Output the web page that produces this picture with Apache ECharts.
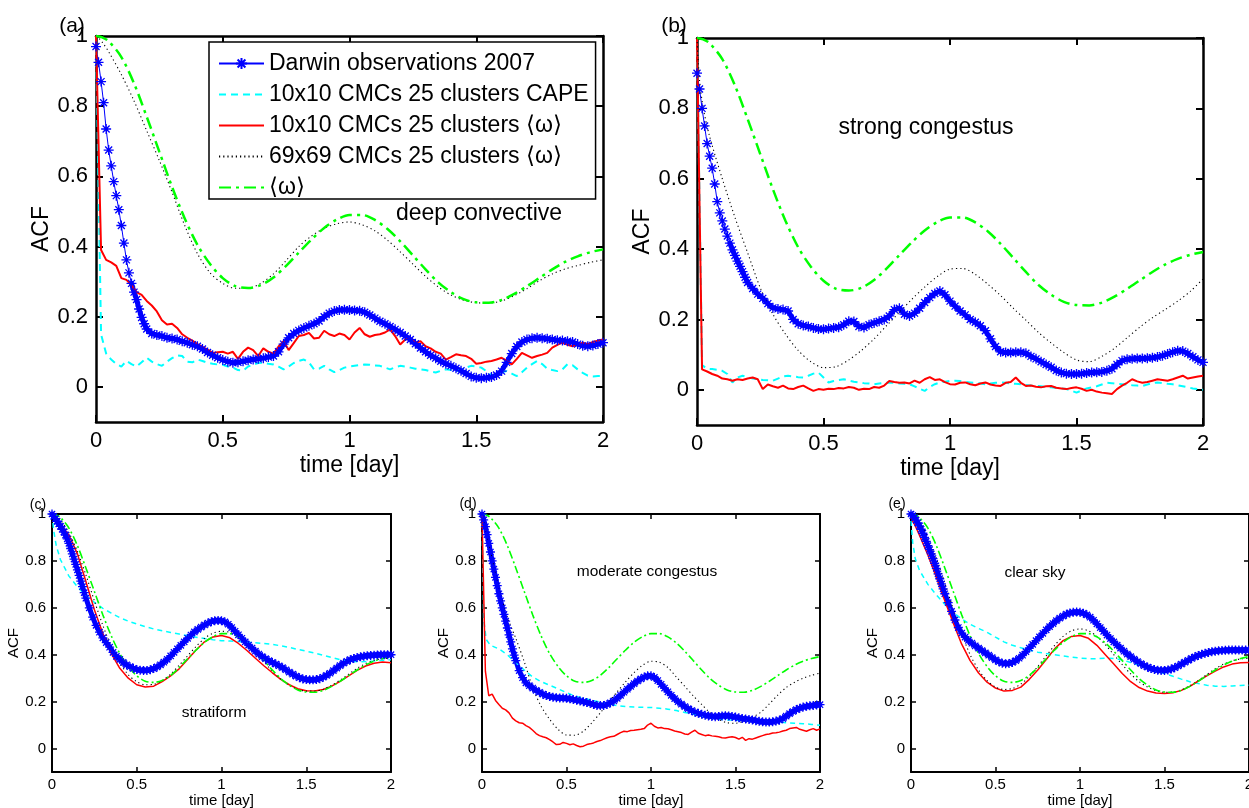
<!DOCTYPE html>
<html>
<head>
<meta charset="utf-8">
<script src="https://cdn.jsdelivr.net/npm/echarts@6/dist/echarts.min.js"></script>
<style>html,body{margin:0;padding:0;background:#fff;overflow:hidden;}#chart{width:1249px;height:808px;}</style>
</head>
<body>
<div id="chart"></div>
<script>
// ---- sampling grids (lag in days) ----
const tN = []; for (let i = 0; i <= 100; i++) tN.push(+(i * 0.02).toFixed(2));
const tObs = []; for (let i = 0; i <= 20; i++) tObs.push(+(i * 0.01).toFixed(2));
for (let i = 11; i <= 100; i++) tObs.push(+(i * 0.02).toFixed(2));
const tS = [0, 0.01, 0.025]; for (let k = 1; k <= 40; k++) tS.push(+(k * 0.05).toFixed(2));

const xTicks = [0, 0.5, 1, 1.5, 2];
const yTicks = [0, 0.2, 0.4, 0.6, 0.8, 1];

const seriesNames = ['Darwin observations 2007', '10x10 CMCs 25 clusters CAPE', '10x10 CMCs 25 clusters \u27E8\u03C9\u27E9', '69x69 CMCs 25 clusters \u27E8\u03C9\u27E9', '\u27E8\u03C9\u27E9'];
const notes = ['deep convective', 'strong congestus', 'stratiform', 'moderate congestus', 'clear sky'];
const letters = ['(a)', '(b)', '(c)', '(d)', '(e)'];

// ---- shared <omega> ACF (on tS) ----
const wMean = [1.0, 0.999, 0.996, 0.985, 0.94, 0.865, 0.77, 0.67, 0.57, 0.48, 0.405, 0.35, 0.31, 0.287, 0.282, 0.29, 0.312, 0.345, 0.383, 0.42, 0.453, 0.477, 0.49, 0.49, 0.476, 0.45, 0.415, 0.375, 0.335, 0.298, 0.27, 0.25, 0.241, 0.24, 0.248, 0.265, 0.287, 0.311, 0.335, 0.356, 0.372, 0.384, 0.392];

// ---- (a) deep convective ----
const obsA = [0.97, 0.925, 0.87, 0.81, 0.735, 0.675, 0.63, 0.585, 0.545, 0.505,
  0.46, 0.41, 0.362, 0.325, 0.295, 0.27, 0.249, 0.222, 0.198, 0.18, 0.165,
  0.152, 0.148, 0.145, 0.14, 0.138, 0.135, 0.13, 0.126, 0.12,
  0.116, 0.108, 0.098, 0.09, 0.083, 0.077, 0.072, 0.069, 0.07, 0.073,
  0.076, 0.078, 0.08, 0.082, 0.085, 0.088, 0.1, 0.122, 0.14, 0.152,
  0.161, 0.168, 0.174, 0.18, 0.188, 0.2, 0.21, 0.216, 0.219, 0.22,
  0.219, 0.218, 0.217, 0.213, 0.205, 0.196, 0.187, 0.18, 0.172, 0.164,
  0.155, 0.145, 0.135, 0.123, 0.111, 0.1, 0.09, 0.082, 0.073, 0.066,
  0.06, 0.053, 0.046, 0.038, 0.03, 0.026, 0.025, 0.026, 0.028, 0.034,
  0.045, 0.07, 0.095, 0.115, 0.128, 0.135, 0.139, 0.14, 0.139, 0.137,
  0.135, 0.133, 0.132, 0.13, 0.128, 0.122, 0.117, 0.116, 0.118, 0.122,
  0.126];
const capeA = [1.0, 0.15, 0.095, 0.078, 0.065, 0.058, 0.074, 0.065, 0.058, 0.07,
  0.083, 0.072, 0.065, 0.06, 0.072, 0.082, 0.09, 0.088, 0.072, 0.07,
  0.078, 0.074, 0.069, 0.066, 0.064, 0.063, 0.058, 0.055, 0.048, 0.046,
  0.058, 0.064, 0.068, 0.069, 0.066, 0.064, 0.058, 0.05, 0.058, 0.068,
  0.074, 0.078, 0.07, 0.05, 0.052, 0.06, 0.05, 0.042, 0.048, 0.055,
  0.058, 0.06, 0.062, 0.064, 0.063, 0.061, 0.06, 0.055, 0.05, 0.056,
  0.06, 0.058, 0.055, 0.052, 0.05, 0.048, 0.044, 0.041, 0.046, 0.05,
  0.048, 0.045, 0.048, 0.055, 0.06, 0.058, 0.055, 0.045, 0.033, 0.035,
  0.042, 0.045, 0.038, 0.031, 0.042, 0.055, 0.065, 0.074, 0.065, 0.052,
  0.048, 0.045, 0.05, 0.065, 0.062, 0.05, 0.04, 0.032, 0.03, 0.031,
  0.031];
const w10A = [1.0, 0.39, 0.362, 0.355, 0.345, 0.31, 0.305, 0.29, 0.27, 0.262,
  0.245, 0.232, 0.215, 0.19, 0.178, 0.18, 0.168, 0.15, 0.14, 0.132,
  0.122, 0.114, 0.106, 0.097, 0.099, 0.1, 0.095, 0.1, 0.08, 0.1,
  0.112, 0.105, 0.088, 0.11, 0.1, 0.095, 0.115, 0.13, 0.105, 0.125,
  0.145, 0.148, 0.154, 0.138, 0.14, 0.16, 0.15, 0.145, 0.152, 0.148,
  0.135, 0.155, 0.168, 0.15, 0.143, 0.148, 0.15, 0.155, 0.164, 0.145,
  0.121, 0.135, 0.138, 0.126, 0.13, 0.116, 0.11, 0.1, 0.095, 0.078,
  0.085, 0.093, 0.09, 0.088, 0.08, 0.066, 0.068, 0.072, 0.074, 0.078,
  0.083, 0.075, 0.064, 0.08, 0.097, 0.09, 0.083, 0.088, 0.092, 0.097,
  0.112, 0.12, 0.126, 0.12, 0.116, 0.12, 0.126, 0.122, 0.128, 0.132,
  0.135];
const w69A = [1.0, 0.995, 0.982, 0.955, 0.89, 0.815, 0.73, 0.645, 0.555, 0.46, 0.38, 0.325, 0.295, 0.281, 0.281, 0.295, 0.322, 0.36, 0.4, 0.43, 0.452, 0.465, 0.47, 0.462, 0.445, 0.418, 0.385, 0.35, 0.315, 0.285, 0.262, 0.247, 0.24, 0.239, 0.245, 0.26, 0.28, 0.303, 0.322, 0.336, 0.346, 0.355, 0.362];

// ---- (b) strong congestus ----
const obsB = [0.9, 0.855, 0.8, 0.75, 0.7, 0.664, 0.63, 0.585, 0.535, 0.503,
  0.48, 0.457, 0.437, 0.417, 0.398, 0.382, 0.366, 0.351, 0.336, 0.32, 0.305,
  0.288, 0.272, 0.26, 0.245, 0.233, 0.23, 0.228, 0.224, 0.2,
  0.188, 0.183, 0.18, 0.176, 0.173, 0.172, 0.174, 0.176, 0.178, 0.185,
  0.195, 0.194, 0.18, 0.177, 0.185, 0.19, 0.195, 0.2, 0.21, 0.228,
  0.232, 0.215, 0.21, 0.218, 0.232, 0.248, 0.262, 0.274, 0.281, 0.27,
  0.252, 0.238, 0.224, 0.213, 0.2, 0.192, 0.182, 0.168, 0.145, 0.123,
  0.108, 0.106, 0.106, 0.107, 0.107, 0.104, 0.095, 0.088, 0.08, 0.072,
  0.064, 0.055, 0.049, 0.046, 0.045, 0.045, 0.046, 0.048, 0.049, 0.05,
  0.051, 0.054, 0.06, 0.072, 0.083, 0.087, 0.088, 0.089, 0.089, 0.09,
  0.091, 0.093, 0.097, 0.102, 0.107, 0.111, 0.11, 0.103, 0.094, 0.085,
  0.078];
const capeB = [1.0, 0.07, 0.06, 0.059, 0.057, 0.054, 0.045, 0.021, 0.035, 0.04,
  0.036, 0.032, 0.03, 0.028, 0.027, 0.026, 0.032, 0.038, 0.04, 0.038,
  0.036, 0.035, 0.04, 0.046, 0.049, 0.035, 0.021, 0.025, 0.028, 0.03,
  0.026, 0.023, 0.021, 0.019, 0.018, 0.016, 0.018, 0.02, 0.021, 0.02,
  0.018, 0.017, 0.016, 0.01, 0.003, -0.003, 0.008, 0.016, 0.021, 0.023,
  0.025, 0.026, 0.025, 0.023, 0.021, 0.019, 0.018, 0.016, 0.018, 0.02,
  0.021, 0.02, 0.018, 0.017, 0.016, 0.014, 0.012, 0.011, 0.01, 0.008,
  0.007, 0.005, 0.004, 0.002, -0.002, -0.008, -0.002, 0.004, 0.007, 0.01,
  0.015, 0.02, 0.019, 0.017, 0.016, 0.015, 0.013, 0.012, 0.011, 0.015,
  0.019, 0.021, 0.019, 0.017, 0.016, 0.013, 0.01, 0.007, 0.004, 0.002,
  0.0];
const w10B = [1.0, 0.058, 0.052, 0.045, 0.04, 0.032, 0.03, 0.026, 0.03, 0.028,
  0.032, 0.035, 0.03, 0.002, 0.015, 0.01, 0.006, 0.012, 0.004, 0.002,
  0.008, 0.012, 0.004, -0.003, 0.002, 0.0, 0.003, 0.002, 0.005, 0.004,
  0.008, 0.006, 0.0, 0.003, 0.002, 0.008, 0.006, 0.012, 0.025, 0.022,
  0.02, 0.021, 0.018, 0.026, 0.02, 0.03, 0.036, 0.028, 0.03, 0.022,
  0.016, 0.015, 0.02, 0.021, 0.016, 0.013, 0.018, 0.021, 0.015, 0.012,
  0.011, 0.02, 0.022, 0.035, 0.02, 0.011, 0.012, 0.009, 0.007, 0.01,
  0.011, 0.006, 0.004, 0.002, 0.005, 0.007, 0.003, -0.003, 0.0, -0.005,
  -0.008, -0.01, -0.012, 0.002, 0.012, 0.02, 0.03, 0.024, 0.02, 0.022,
  0.026, 0.03, 0.028, 0.026, 0.03, 0.035, 0.04, 0.032, 0.035, 0.038,
  0.04];
const w69B = [1.0, 0.88, 0.8, 0.72, 0.6, 0.49, 0.39, 0.29, 0.215, 0.158, 0.112, 0.08, 0.063, 0.066, 0.085, 0.112, 0.145, 0.183, 0.22, 0.258, 0.292, 0.322, 0.343, 0.345, 0.328, 0.3, 0.268, 0.232, 0.198, 0.163, 0.133, 0.106, 0.085, 0.08, 0.095, 0.118, 0.148, 0.178, 0.205, 0.228, 0.252, 0.28, 0.315];

// ---- (c) stratiform ----
const obsC = [1.0, 0.99, 0.98, 0.969, 0.958, 0.947, 0.935, 0.923, 0.91, 0.894,
  0.875, 0.853, 0.83, 0.808, 0.785, 0.762, 0.738, 0.714, 0.69, 0.665, 0.641,
  0.6, 0.56, 0.525, 0.496, 0.472, 0.452, 0.432, 0.41, 0.393,
  0.38, 0.367, 0.357, 0.349, 0.342, 0.337, 0.334, 0.333, 0.333, 0.336,
  0.341, 0.348, 0.357, 0.368, 0.38, 0.395, 0.41, 0.425, 0.44, 0.455,
  0.47, 0.484, 0.497, 0.508, 0.518, 0.527, 0.535, 0.541, 0.545, 0.546,
  0.545, 0.54, 0.53, 0.516, 0.5, 0.485, 0.47, 0.455, 0.441, 0.428,
  0.415, 0.403, 0.392, 0.383, 0.375, 0.367, 0.36, 0.353, 0.345, 0.336,
  0.326, 0.317, 0.309, 0.302, 0.297, 0.294, 0.293, 0.293, 0.294, 0.298,
  0.304, 0.312, 0.321, 0.332, 0.343, 0.354, 0.364, 0.372, 0.379, 0.384,
  0.388, 0.391, 0.394, 0.396, 0.397, 0.398, 0.399, 0.4, 0.4, 0.4,
  0.4];
const capeC = [1.0, 0.93, 0.865, 0.805, 0.735, 0.69, 0.652, 0.623, 0.598, 0.577, 0.558, 0.543, 0.531, 0.52, 0.51, 0.502, 0.495, 0.488, 0.481, 0.475, 0.469, 0.464, 0.46, 0.458, 0.456, 0.454, 0.451, 0.448, 0.444, 0.438, 0.431, 0.423, 0.415, 0.407, 0.398, 0.388, 0.379, 0.373, 0.37, 0.371, 0.373, 0.376, 0.379];
const w10C = [1.0, 0.993, 0.978, 0.955, 0.91, 0.83, 0.712, 0.592, 0.49, 0.405, 0.342, 0.3, 0.272, 0.262, 0.266, 0.285, 0.31, 0.34, 0.38, 0.42, 0.455, 0.476, 0.482, 0.472, 0.448, 0.418, 0.385, 0.353, 0.323, 0.295, 0.272, 0.255, 0.246, 0.245, 0.252, 0.266, 0.286, 0.31, 0.333, 0.352, 0.364, 0.369, 0.366];
const w69C = [1.0, 0.998, 0.99, 0.975, 0.92, 0.84, 0.74, 0.63, 0.525, 0.435, 0.365, 0.315, 0.285, 0.272, 0.274, 0.29, 0.318, 0.355, 0.395, 0.435, 0.47, 0.492, 0.5, 0.495, 0.476, 0.447, 0.41, 0.37, 0.33, 0.295, 0.27, 0.252, 0.245, 0.245, 0.253, 0.27, 0.292, 0.317, 0.342, 0.362, 0.376, 0.383, 0.386];

// ---- (d) moderate congestus ----
const obsD = [1.0, 0.975, 0.946, 0.912, 0.875, 0.838, 0.8, 0.765, 0.73, 0.695,
  0.66, 0.63, 0.6, 0.572, 0.543, 0.514, 0.485, 0.455, 0.425, 0.398, 0.375,
  0.332, 0.302, 0.28, 0.268, 0.258, 0.248, 0.24, 0.232, 0.226,
  0.222, 0.219, 0.217, 0.216, 0.215, 0.214, 0.212, 0.209, 0.206, 0.203,
  0.2, 0.196, 0.193, 0.188, 0.184, 0.183, 0.184, 0.188, 0.195, 0.203,
  0.214, 0.227, 0.24, 0.253, 0.265, 0.277, 0.288, 0.297, 0.305, 0.31,
  0.31, 0.303, 0.29, 0.274, 0.258, 0.242, 0.227, 0.213, 0.2, 0.189,
  0.179, 0.17, 0.162, 0.155, 0.15, 0.146, 0.142, 0.139, 0.137, 0.136,
  0.137, 0.139, 0.14, 0.139, 0.137, 0.134, 0.131, 0.128, 0.126, 0.124,
  0.122, 0.119, 0.116, 0.114, 0.113, 0.113, 0.114, 0.117, 0.121, 0.128,
  0.138, 0.149, 0.158, 0.166, 0.172, 0.177, 0.18, 0.182, 0.184, 0.186,
  0.187];
const capeD = [1.0, 0.55, 0.465, 0.44, 0.425, 0.4, 0.365, 0.335, 0.305, 0.285, 0.27, 0.255, 0.238, 0.224, 0.214, 0.206, 0.198, 0.19, 0.183, 0.179, 0.177, 0.176, 0.175, 0.172, 0.168, 0.162, 0.154, 0.146, 0.139, 0.132, 0.125, 0.122, 0.121, 0.119, 0.117, 0.116, 0.115, 0.113, 0.11, 0.108, 0.106, 0.103, 0.099];
const w10D = [1.0, 0.33, 0.225, 0.232, 0.205, 0.188, 0.172, 0.165, 0.152, 0.13,
  0.118, 0.11, 0.108, 0.098, 0.09, 0.078, 0.064, 0.055, 0.05, 0.046,
  0.038, 0.028, 0.017, 0.018, 0.026, 0.022, 0.016, 0.02, 0.013, 0.008,
  0.01, 0.017, 0.02, 0.024, 0.03, 0.034, 0.04, 0.046, 0.05, 0.052,
  0.06, 0.068, 0.074, 0.072, 0.077, 0.078, 0.08, 0.082, 0.085, 0.1,
  0.108, 0.095, 0.088, 0.09, 0.085, 0.084, 0.08, 0.075, 0.072, 0.068,
  0.062, 0.06, 0.07, 0.078, 0.065, 0.06, 0.055, 0.058, 0.054, 0.052,
  0.05, 0.046, 0.045, 0.048, 0.05, 0.047, 0.04, 0.048, 0.035, 0.042,
  0.04, 0.045, 0.05, 0.055, 0.06, 0.062, 0.066, 0.067, 0.07, 0.075,
  0.078, 0.085, 0.088, 0.09, 0.082, 0.078, 0.074, 0.08, 0.085, 0.078,
  0.084];
const w69D = [1.0, 0.97, 0.92, 0.84, 0.69, 0.56, 0.47, 0.37, 0.26, 0.18, 0.125, 0.082, 0.058, 0.057, 0.074, 0.11, 0.152, 0.198, 0.242, 0.285, 0.324, 0.355, 0.372, 0.368, 0.345, 0.305, 0.265, 0.225, 0.188, 0.152, 0.125, 0.11, 0.108, 0.116, 0.133, 0.155, 0.19, 0.228, 0.26, 0.283, 0.3, 0.312, 0.322];

// ---- (e) clear sky ----
const obsE = [1.0, 0.993, 0.985, 0.974, 0.962, 0.949, 0.935, 0.918, 0.9, 0.883,
  0.865, 0.848, 0.83, 0.81, 0.79, 0.768, 0.745, 0.724, 0.702, 0.681, 0.66,
  0.622, 0.585, 0.548, 0.516, 0.492, 0.475, 0.461, 0.449, 0.438,
  0.428, 0.418, 0.408, 0.398, 0.388, 0.378, 0.37, 0.364, 0.362, 0.363,
  0.367, 0.375, 0.385, 0.398, 0.413, 0.428, 0.444, 0.46, 0.476, 0.491,
  0.506, 0.52, 0.533, 0.545, 0.556, 0.565, 0.573, 0.578, 0.581, 0.582,
  0.581, 0.577, 0.57, 0.56, 0.547, 0.532, 0.516, 0.5, 0.484, 0.469,
  0.455, 0.441, 0.428, 0.415, 0.403, 0.392, 0.381, 0.371, 0.362, 0.354,
  0.347, 0.341, 0.337, 0.334, 0.333, 0.333, 0.335, 0.339, 0.345, 0.352,
  0.36, 0.368, 0.376, 0.384, 0.391, 0.397, 0.402, 0.406, 0.41, 0.413,
  0.415, 0.417, 0.418, 0.419, 0.42, 0.42, 0.42, 0.42, 0.42, 0.42,
  0.42];
const capeE = [0.97, 0.88, 0.81, 0.76, 0.7, 0.655, 0.615, 0.58, 0.553, 0.53, 0.512, 0.496, 0.475, 0.455, 0.44, 0.43, 0.42, 0.411, 0.405, 0.4, 0.395, 0.39, 0.386, 0.383, 0.383, 0.385, 0.384, 0.378, 0.367, 0.355, 0.343, 0.332, 0.32, 0.308, 0.296, 0.285, 0.277, 0.27, 0.266, 0.265, 0.267, 0.269, 0.27];
const w10E = [1.0, 0.97, 0.95, 0.91, 0.825, 0.73, 0.63, 0.535, 0.445, 0.375, 0.322, 0.283, 0.258, 0.245, 0.248, 0.262, 0.295, 0.335, 0.38, 0.425, 0.46, 0.478, 0.482, 0.47, 0.44, 0.4, 0.36, 0.32, 0.285, 0.26, 0.245, 0.237, 0.235, 0.238, 0.248, 0.265, 0.288, 0.31, 0.33, 0.348, 0.36, 0.366, 0.367];
const w69E = [1.0, 0.995, 0.985, 0.965, 0.9, 0.81, 0.705, 0.595, 0.49, 0.4, 0.335, 0.29, 0.262, 0.252, 0.256, 0.275, 0.308, 0.35, 0.395, 0.44, 0.478, 0.502, 0.51, 0.502, 0.478, 0.443, 0.4, 0.358, 0.318, 0.285, 0.262, 0.247, 0.24, 0.241, 0.25, 0.268, 0.29, 0.315, 0.34, 0.36, 0.374, 0.382, 0.385];

// ---- panel data bindings ----
const panelData = [
  { obs: obsA, cape: [tN, capeA], w10: [tN, w10A], w69: w69A },
  { obs: obsB, cape: [tN, capeB], w10: [tN, w10B], w69: w69B },
  { obs: obsC, cape: [tS, capeC], w10: [tS, w10C], w69: w69C },
  { obs: obsD, cape: [tS, capeD], w10: [tN, w10D], w69: w69D },
  { obs: obsE, cape: [tS, capeE], w10: [tS, w10E], w69: w69E }
];

// ---- layout / style (not data) ----
const FONT = "'Liberation Sans', Arial, Helvetica, sans-serif";
const layout = [
  { grid: { left: 96, top: 36, width: 507, height: 386 }, big: true, bandFrom: 0.14, letterPos: [72, 26], notePos: [479, 214] },
  { grid: { left: 697, top: 38, width: 506, height: 387 }, big: true, bandFrom: 0.13, letterPos: [674, 26], notePos: [926, 128] },
  { grid: { left: 52, top: 514, width: 339, height: 258 }, big: false, bandFrom: 0, letterPos: [38, 505], notePos: [214, 713] },
  { grid: { left: 482, top: 514, width: 338, height: 258 }, big: false, bandFrom: 0, letterPos: [468, 504], notePos: [647, 572] },
  { grid: { left: 911, top: 514, width: 338, height: 258 }, big: false, bandFrom: 0, letterPos: [897, 504], notePos: [1035, 573] }
];
const STAR = 'path://M5,0L5,10M0,5L10,5M1.5,1.5L8.5,8.5M1.5,8.5L8.5,1.5';

const pair = (t, v) => v.map((y, i) => [t[i], y]);

const grids = [], xAxes = [], yAxes = [], series = [], graphics = [];
layout.forEach((L, i) => {
  const big = L.big;
  const fs = big ? 22 : 15;
  const nfs = big ? 23 : 15;
  const axW = big ? 2.5 : 2;
  const tickLen = big ? 7 : 5;
  grids.push(Object.assign({ containLabel: false, outerBoundsMode: 'none' }, L.grid));
  const lineCommon = { show: true, onZero: false, lineStyle: { color: '#000', width: axW } };
  const tickCommon = { show: true, inside: true, length: tickLen, lineStyle: { color: '#000', width: big ? 2 : 1.5 } };
  xAxes.push({
    type: 'value', gridIndex: i, min: 0, max: 2, position: 'bottom',
    axisLine: lineCommon, axisTick: Object.assign({ customValues: xTicks }, tickCommon),
    axisLabel: { customValues: xTicks, color: '#000', fontSize: fs, fontFamily: FONT, margin: big ? 8 : 5, hideOverlap: false },
    splitLine: { show: false },
    name: 'time [day]', nameLocation: 'middle', nameGap: big ? 32 : 19,
    nameTextStyle: { color: '#000', fontSize: nfs, fontFamily: FONT }
  });
  xAxes.push({
    type: 'value', gridIndex: i, min: 0, max: 2, position: 'top',
    axisLine: lineCommon, axisTick: Object.assign({ customValues: xTicks }, tickCommon),
    axisLabel: { show: false }, splitLine: { show: false }
  });
  yAxes.push({
    type: 'value', gridIndex: i, min: -0.1, max: 1, position: 'left',
    axisLine: lineCommon, axisTick: Object.assign({ customValues: yTicks }, tickCommon),
    axisLabel: { customValues: yTicks, color: '#000', fontSize: fs, fontFamily: FONT, margin: big ? 8 : 6 },
    splitLine: { show: false },
    name: 'ACF', nameLocation: 'middle', nameGap: big ? 43 : 27, nameRotate: 90,
    nameTextStyle: { color: '#000', fontSize: nfs, fontFamily: FONT }
  });
  yAxes.push({
    type: 'value', gridIndex: i, min: -0.1, max: 1, position: 'right',
    axisLine: lineCommon, axisTick: Object.assign({ customValues: yTicks }, tickCommon),
    axisLabel: { show: false }, splitLine: { show: false }
  });

  const D = panelData[i];
  const base = { type: 'line', xAxisIndex: 2 * i, yAxisIndex: 2 * i, animation: false, silent: true };
  const obsPairs = pair(tObs, D.obs);
  // dense-marker band of the observations (where markers overlap into a solid trace)
  series.push(Object.assign({}, base, {
    name: 'Darwin observations 2007 band', data: obsPairs.filter(p => p[0] >= L.bandFrom),
    color: '#0000ff', symbol: 'none',
    lineStyle: { color: '#0000ff', width: big ? 5 : 5, join: 'round', cap: 'round' }
  }));
  series.push(Object.assign({}, base, {
    name: seriesNames[0], data: obsPairs, color: '#0000ff',
    symbol: STAR, symbolSize: big ? 10 : 9, showSymbol: true, showAllSymbol: true,
    itemStyle: { color: 'rgba(0,0,255,0)', borderColor: '#0000ff', borderWidth: 1.3 },
    lineStyle: { color: '#0000ff', width: 1 }
  }));
  series.push(Object.assign({}, base, {
    name: seriesNames[1], data: pair(D.cape[0], D.cape[1]), color: '#00ffff', symbol: 'none',
    lineStyle: { color: '#00ffff', width: big ? 2 : 1.5, type: big ? [7, 5] : [5, 4] }
  }));
  series.push(Object.assign({}, base, {
    name: seriesNames[2], data: pair(D.w10[0], D.w10[1]), color: '#ff0000', symbol: 'none',
    lineStyle: { color: '#ff0000', width: big ? 2 : 1.5 }
  }));
  series.push(Object.assign({}, base, {
    name: seriesNames[3], data: pair(tS, D.w69), color: '#000000', symbol: 'none', smooth: 0.3,
    lineStyle: { color: '#000000', width: 1.1, type: [1.2, 3] }
  }));
  series.push(Object.assign({}, base, {
    name: seriesNames[4], data: pair(tS, wMean), color: '#00ff00', symbol: 'none', smooth: 0.3,
    lineStyle: { color: '#00ff00', width: big ? 2.5 : 1.6, type: big ? [12, 5, 3, 5] : [8, 3, 2, 3] }
  }));

  graphics.push({
    type: 'text', x: L.letterPos[0], y: L.letterPos[1], silent: true,
    style: { text: letters[i], fill: '#000', font: `${big ? 21 : 14}px ${FONT}`, align: 'center', verticalAlign: 'middle', textAlign: 'center', textVerticalAlign: 'middle' }
  });
  graphics.push({
    type: 'text', x: L.notePos[0], y: L.notePos[1], silent: true,
    style: { text: notes[i], fill: '#000', font: `${big ? 23 : 15.5}px ${FONT}`, align: 'center', verticalAlign: 'middle', textAlign: 'center', textVerticalAlign: 'middle' }
  });
});

const hideSym = { opacity: 0, borderWidth: 0 };
const chart = echarts.init(document.getElementById('chart'), null, { renderer: 'canvas' });
chart.setOption({
  backgroundColor: '#fff',
  animation: false,
  grid: grids,
  xAxis: xAxes,
  yAxis: yAxes,
  series: series,
  graphic: graphics,
  legend: {
    data: [
      { name: seriesNames[0] },
      { name: seriesNames[1], itemStyle: hideSym },
      { name: seriesNames[2], itemStyle: hideSym },
      { name: seriesNames[3], itemStyle: hideSym },
      { name: seriesNames[4], itemStyle: hideSym }
    ],
    orient: 'vertical', left: 209, top: 42,
    itemWidth: 45, itemHeight: 14, itemGap: 8,
    padding: [10, 7, 0, 9],
    backgroundColor: '#fff', borderColor: '#000', borderWidth: 1.5,
    textStyle: { color: '#000', fontSize: 23, fontFamily: FONT, lineHeight: 23 },
    selectedMode: false
  }
});
</script>
</body>
</html>
